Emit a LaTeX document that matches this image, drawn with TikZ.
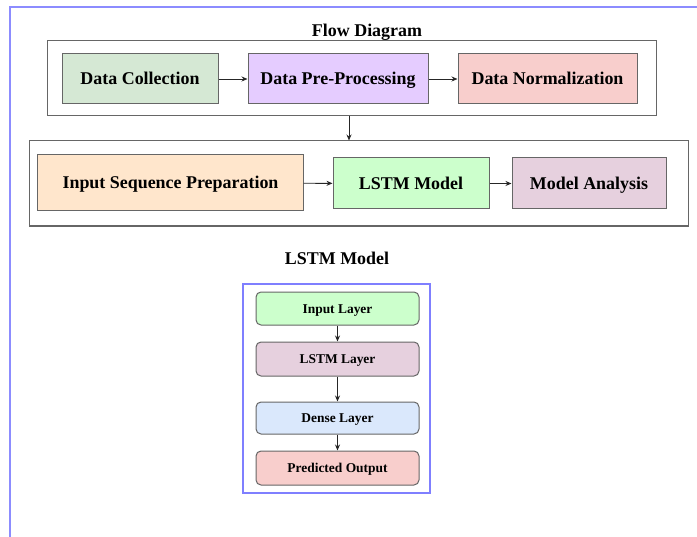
\documentclass[tikz,border=0pt]{standalone}
\usepackage{fontspec}
\setmainfont{Liberation Serif}
\usetikzlibrary{arrows.meta}
\definecolor{pageblue}{HTML}{8C8CFF}
\definecolor{boxblue}{HTML}{7F7FFF}
\definecolor{edge}{HTML}{666666}
\definecolor{cgreen}{HTML}{D5E8D4}
\definecolor{cviolet}{HTML}{E5CCFF}
\definecolor{cred}{HTML}{F8CECC}
\definecolor{corange}{HTML}{FFE6CC}
\definecolor{clime}{HTML}{CCFFCC}
\definecolor{cmauve}{HTML}{E6D0DE}
\definecolor{cblue}{HTML}{DAE8FC}
\tikzset{
  bigbox/.style={draw=edge, line width=1bp, inner sep=0pt, text height=12.5bp, text depth=0.5bp, font=\bfseries\fontsize{18}{20}\selectfont},
  layerbox/.style={draw=edge, line width=1bp, rounded corners=5bp, inner sep=0pt, minimum width=163bp, text height=9.5bp, text depth=0.5bp, font=\bfseries\fontsize{13.5}{15}\selectfont},
  container/.style={draw=edge, line width=1bp, inner sep=0pt},
  titletext/.style={font=\bfseries\fontsize{18}{20}\selectfont, inner sep=0pt},
  arr/.style={-{Stealth[length=6bp,width=5bp]}, line width=0.9bp, draw=black!85}
}
\begin{document}
\begin{tikzpicture}[x=1bp,y=-1bp]
\useasboundingbox (0,0) rectangle (697,537);
\fill[white] (0,0) rectangle (697,537);
% page border
\draw[pageblue, line width=2bp] (10,537) -- (10,7) -- (697,7);
% flow diagram top container
\node[titletext] (t1) at (367,32) {Flow Diagram};
\node[container, minimum width=608bp, minimum height=75bp] (fd) at (352,78.5) {};
\node[bigbox, fill=cgreen, minimum width=156bp, minimum height=50bp] (dc) at (140,79) {Data Collection};
\node[bigbox, fill=cviolet, minimum width=180bp, minimum height=50bp] (dp) at (338,79) {Data Pre-Processing};
\node[bigbox, fill=cred, minimum width=179bp, minimum height=50bp] (dn) at (547.5,79) {Data Normalization};
\draw[arr] (dc) -- (dp);
\draw[arr] (dp) -- (dn);
% second container
\node[container, minimum width=658bp, minimum height=85bp] (md) at (359,183.5) {};
\coordinate (c1) at (349,116);
\draw[arr] (c1) -- (c1 |- md.north);
\node[bigbox, fill=corange, minimum width=265bp, minimum height=56bp] (isp) at (170.5,183) {Input Sequence Preparation};
\node[bigbox, fill=clime, minimum width=156bp, minimum height=51bp] (lm) at (411,183.5) {LSTM Model};
\node[bigbox, fill=cmauve, minimum width=154bp, minimum height=51bp] (ma) at (589,183.5) {Model Analysis};
\draw[arr] (isp) -- (lm);
\draw[arr] (lm) -- (ma);
% LSTM model detail
\node[titletext] (t2) at (337,258) {LSTM Model};
\node[draw=boxblue, line width=1.2bp, minimum width=187bp, minimum height=209bp, inner sep=0pt] (lb) at (336.5,388.5) {};
\node[layerbox, fill=clime, minimum height=33bp] (il) at (337.5,308.5) {Input Layer};
\node[layerbox, fill=cmauve, minimum height=34bp] (ll) at (337.5,359) {LSTM Layer};
\node[layerbox, fill=cblue, minimum height=32bp] (dl) at (337.5,418) {Dense Layer};
\node[layerbox, fill=cred, minimum height=34bp] (po) at (337.5,468) {Predicted Output};
\draw[arr] (il) -- (ll);
\draw[arr] (ll) -- (dl);
\draw[arr] (dl) -- (po);
\end{tikzpicture}
\end{document}
